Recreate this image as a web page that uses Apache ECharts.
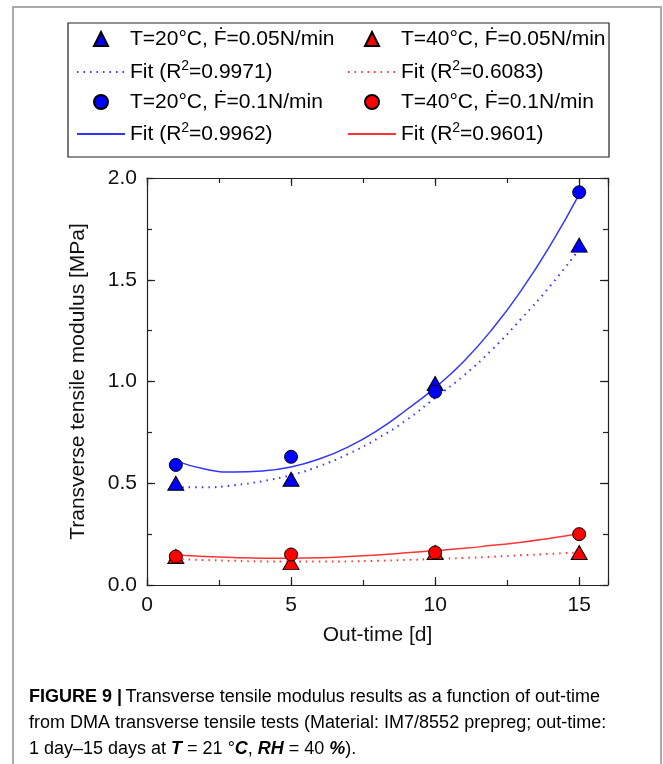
<!DOCTYPE html>
<html>
<head>
<meta charset="utf-8">
<script src="https://cdn.jsdelivr.net/npm/echarts@6/dist/echarts.min.js"></script>
<style>
  html, body { margin: 0; padding: 0; background: #fff; }
  #main { width: 663px; height: 764px; }
</style>
</head>
<body>
<div id="main"></div>
<script>
// measured points (out-time in days)
var outTime = [1, 5, 10, 15];
var t20f005 = [0.50, 0.52, 0.99, 1.67];
var t40f005 = [0.14, 0.11, 0.16, 0.16];
var t20f01 = [0.59, 0.63, 0.95, 1.93];
var t40f01 = [0.14, 0.15, 0.16, 0.25];

// fit curves at each day
var fitDays = [1, 2, 3, 4, 5, 6, 7, 8, 9, 10, 11, 12, 13, 14, 15];
var fit20f005 = [0.48, 0.48, 0.49, 0.51, 0.54, 0.585, 0.645, 0.72, 0.81, 0.92, 1.03, 1.16, 1.31, 1.47, 1.65];
var fit40f005 = [0.128, 0.123, 0.119, 0.116, 0.115, 0.115, 0.116, 0.119, 0.123, 0.128, 0.133, 0.139, 0.146, 0.153, 0.16];
var fit20f01 = [0.61, 0.57, 0.555, 0.56, 0.58, 0.62, 0.68, 0.76, 0.86, 0.97, 1.10, 1.26, 1.45, 1.67, 1.92];
var fit40f01 = [0.147, 0.14, 0.135, 0.132, 0.132, 0.134, 0.14, 0.148, 0.158, 0.169, 0.18, 0.195, 0.21, 0.23, 0.252];

var xTicks = [0, 5, 10, 15];
var yTicks = [0.0, 0.5, 1.0, 1.5, 2.0];

var names = {
    t20f005: 'T=20°C, Ḟ=0.05N/min',
    t40f005: 'T=40°C, Ḟ=0.05N/min',
    fit20f005: 'Fit (R2=0.9971)',
    fit40f005: 'Fit (R2=0.6083)',
    t20f01: 'T=20°C, Ḟ=0.1N/min',
    t40f01: 'T=40°C, Ḟ=0.1N/min',
    fit20f01: 'Fit (R2=0.9962)',
    fit40f01: 'Fit (R2=0.9601)'
};

var BLUE = '#0000ff', RED = '#ff0000';
var FONT = 'Liberation Sans, Arial, sans-serif';

function pairs(xs, ys) {
    return xs.map(function (x, i) { return [x, ys[i]]; });
}

function fitLine(name, xs, ys, color, dotted) {
    return {
        name: name, type: 'line', data: pairs(xs, ys),
        smooth: true, symbol: 'none', z: 2,
        lineStyle: { color: color, width: dotted ? 2 : 1.5, type: dotted ? [1.5, 5] : 'solid' },
        itemStyle: { color: color }
    };
}

function points(name, ys, color, symbol) {
    return {
        name: name, type: 'scatter', data: pairs(outTime, ys),
        symbol: symbol, symbolSize: symbol == 'triangle' ? [16, 14] : 13,
        z: symbol == 'triangle' ? 3 : 4,
        itemStyle: { color: color, borderColor: '#000', borderWidth: 1, opacity: 1 }
    };
}

function legendText(name) {
    var m = name.match(/^Fit \(R2(=.*)$/);
    if (m) {
        return '{t|Fit (R}{s|2}{t|' + m[1] + '}';
    }
    return '{t|' + name + '}';
}

var legendRich = {
    t: { fontSize: 21, fontFamily: FONT, color: '#000', lineHeight: 24 },
    s: { fontSize: 14, fontFamily: FONT, color: '#000', lineHeight: 24, padding: [0, 0, 12, 0] }
};

// one legend per column and kind (symbols on rows 1/3, fit lines on rows 2/4)
function legendSymbols(left, data) {
    return {
        orient: 'vertical', left: left, top: 22,
        itemWidth: 14, itemHeight: 14, itemGap: 39,
        data: data, formatter: legendText,
        textStyle: { rich: legendRich, lineHeight: 24, padding: [0, 0, 0, 17] },
        selectedMode: false
    };
}

function legendLines(left, data) {
    return {
        orient: 'vertical', left: left, top: 54,
        itemWidth: 48, itemHeight: 1, itemGap: 36,
        data: data, formatter: legendText,
        textStyle: { rich: legendRich, lineHeight: 24 },
        selectedMode: false
    };
}

function xAxisOf(position, interval, tickLen, showLabel, showLine) {
    return {
        type: 'value', position: position, min: 0, max: 16, interval: interval,
        axisLine: { show: showLine, onZero: false, lineStyle: { color: '#222', width: 1.2 } },
        axisTick: { show: true, inside: true, length: tickLen, lineStyle: { color: '#222', width: 1.2 } },
        axisLabel: {
            show: showLabel, fontSize: 21, fontFamily: FONT, color: '#111', margin: 10,
            showMaxLabel: false,
            formatter: function (v) { return xTicks.indexOf(v) >= 0 ? String(v) : ''; }
        },
        splitLine: { show: false }
    };
}

function yAxisOf(position, interval, tickLen, showLabel, showLine) {
    return {
        type: 'value', position: position, min: 0, max: 2, interval: interval,
        axisLine: { show: showLine, onZero: false, lineStyle: { color: '#222', width: 1.2 } },
        axisTick: { show: true, inside: true, length: tickLen, lineStyle: { color: '#222', width: 1.2 } },
        axisLabel: {
            show: showLabel, fontSize: 21, fontFamily: FONT, color: '#111', margin: 10,
            formatter: function (v) { return yTicks.indexOf(v) >= 0 ? v.toFixed(1) : ''; }
        },
        splitLine: { show: false }
    };
}

var xMain = xAxisOf('bottom', 5, 8, true, true);
xMain.name = 'Out-time [d]';
xMain.nameLocation = 'middle';
xMain.nameGap = 40;
xMain.nameTextStyle = { fontSize: 21, fontFamily: FONT, color: '#111' };

var yMain = yAxisOf('left', 0.5, 8, true, true);
yMain.name = 'Transverse tensile modulus [MPa]';
yMain.nameLocation = 'middle';
yMain.nameGap = 58;
yMain.nameTextStyle = { fontSize: 21, fontFamily: FONT, color: '#111' };

var option = {
    backgroundColor: '#fff',
    animation: false,
    grid: { left: 147, right: 55, top: 178, bottom: 179 },
    xAxis: [
        xMain,
        xAxisOf('bottom', 2.5, 5, false, false),
        xAxisOf('top', 5, 8, false, true),
        xAxisOf('top', 2.5, 5, false, false)
    ],
    yAxis: [
        yMain,
        yAxisOf('left', 0.25, 5, false, false),
        yAxisOf('right', 0.5, 8, false, true),
        yAxisOf('right', 0.25, 5, false, false)
    ],
    legend: [
        legendSymbols(88, [names.t20f005, names.t20f01]),
        legendLines(71, [names.fit20f005, names.fit20f01]),
        legendSymbols(359, [names.t40f005, names.t40f01]),
        legendLines(342, [names.fit40f005, names.fit40f01])
    ],
    series: [
        fitLine(names.fit20f005, fitDays, fit20f005, '#3535ff', true),
        fitLine(names.fit40f005, fitDays, fit40f005, '#ff3535', true),
        fitLine(names.fit20f01, fitDays, fit20f01, '#3535ff', false),
        fitLine(names.fit40f01, fitDays, fit40f01, '#ff3535', false),
        points(names.t20f005, t20f005, BLUE, 'triangle'),
        points(names.t40f005, t40f005, RED, 'triangle'),
        points(names.t20f01, t20f01, BLUE, 'circle'),
        points(names.t40f01, t40f01, RED, 'circle')
    ],
    graphic: [
        // outer figure frame
        { type: 'rect', shape: { x: 13, y: 7, width: 648, height: 820 }, style: { fill: 'none', stroke: '#aaa', lineWidth: 2 }, silent: true },
        // legend box
        { type: 'rect', shape: { x: 68, y: 23, width: 541, height: 134 }, style: { fill: 'none', stroke: '#222', lineWidth: 1.2 }, silent: true },
        // caption
        {
            type: 'text', left: 29, top: 688, silent: true,
            style: {
                text: '{b|FIGURE 9 |} {r|Transverse tensile modulus results as a function of out-time}\n' +
                      '{r|from DMA transverse tensile tests (Material: IM7/8552 prepreg; out-time:}\n' +
                      '{r|1 day–15 days at }{bi|T}{r| = 21 °}{bi|C}{r|, }{bi|RH}{r| = 40 }{bi|%}{r|).}',
                rich: {
                    b: { fontSize: 18, fontWeight: 'bold', fontFamily: FONT, color: '#111', lineHeight: 26 },
                    r: { fontSize: 18, fontFamily: FONT, color: '#222', lineHeight: 26 },
                    bi: { fontSize: 18, fontWeight: 'bold', fontStyle: 'italic', fontFamily: FONT, color: '#111', lineHeight: 26 }
                }
            }
        }
    ]
};

var myChart = echarts.init(document.getElementById('main'));
myChart.setOption(option);
</script>
</body>
</html>
